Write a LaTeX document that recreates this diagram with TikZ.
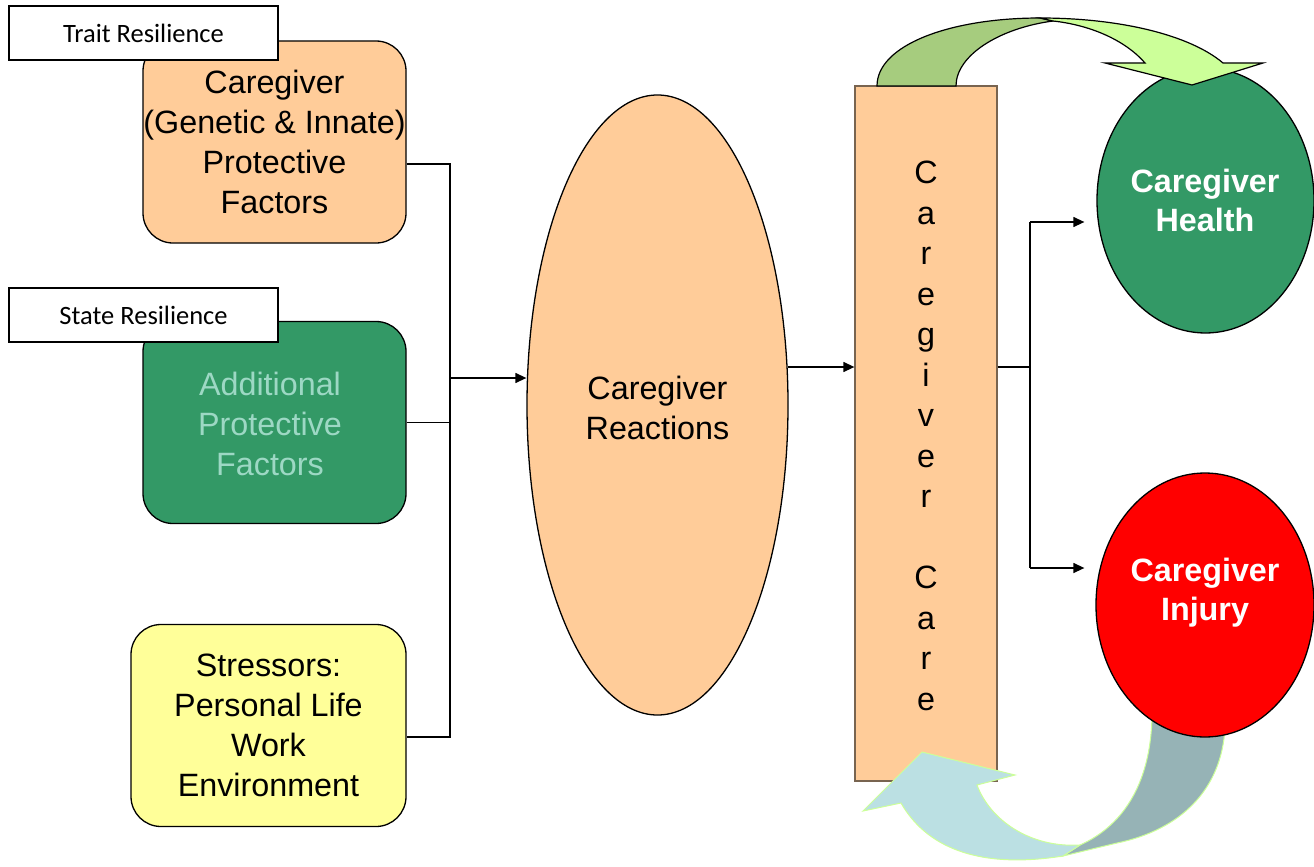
\documentclass[tikz,border=0pt]{standalone}
\usepackage{fontspec}
\setmainfont{Liberation Sans}
\newfontfamily\calib{Carlito}
\usetikzlibrary{shapes.geometric,arrows.meta}
\definecolor{peach}{HTML}{FFCC99}
\definecolor{sgreen}{HTML}{339966}
\definecolor{lyellow}{HTML}{FFFF99}
\definecolor{mint}{HTML}{9DD8C4}
\definecolor{rectline}{RGB}{120,100,80}
\definecolor{arrdark}{HTML}{A6CC7E}
\definecolor{arrlight}{HTML}{CCFF99}
\definecolor{bdark}{HTML}{96B3B6}
\definecolor{blight}{HTML}{BBE0E3}
\begin{document}
\begin{tikzpicture}[x=1pt,y=-1pt,
  mainfont/.style={font=\fontsize{32.3}{40}\selectfont},
  box/.style={draw=black,line width=1.3pt,rounded corners=30pt,minimum width=263pt,minimum height=202pt,align=center,inner sep=0pt,mainfont},
  tag/.style={draw=black,line width=1.5pt,fill=white,minimum width=269pt,minimum height=54pt,inner sep=0pt,font=\calib\fontsize{26.5}{30}\selectfont},
  oval/.style={draw=black,ellipse,line width=1.3pt,inner sep=0pt,align=center,mainfont},
  boldtxt/.style={align=center,text=white,inner sep=0pt,font=\bfseries\fontsize{32.3}{39}\selectfont},
  conn/.style={line width=1.3pt},
  arr/.style={conn,-{Triangle[length=11pt,width=10pt]}},
]
\useasboundingbox (0,0) rectangle (1314,867);

% left boxes
\node[box,fill=peach] (b1) at (274.5,142) {Caregiver\\(Genetic \& Innate)\\Protective\\Factors};
\node[tag] (t1) at (143.5,33) {Trait Resilience};
\node[box,fill=sgreen] (b2) at (274.5,422.5) {};
\node[align=center,text=mint,inner sep=0pt,mainfont] (b2txt) at (270,423.5) {Additional\\Protective\\Factors};
\node[tag] (t2) at (143.5,315) {State Resilience};
\node[box,fill=lyellow,minimum width=275pt] (b3) at (268.5,725.5) {Stressors:\\Personal Life\\Work\\Environment};

% reactions
\node[oval,fill=peach,minimum width=261pt,minimum height=620pt] (react) at (657.5,405) {};
\node[align=center,inner sep=0pt,mainfont] (reacttxt) at (657.5,408) {Caregiver\\Reactions};

% caregiver care bar
\node[draw=rectline,fill=peach,line width=1.3pt,minimum width=142pt,minimum height=695pt,inner sep=0pt] (care) at (926,433.5) {};
\node[align=center,font=\fontsize{32.3}{40.5}\selectfont,inner sep=0pt] (caretxt) at (926,436) {C\\a\\r\\e\\g\\i\\v\\e\\r\\\mbox{}\\C\\a\\r\\e};

% outcomes
\node[oval,fill=sgreen,minimum width=217pt,minimum height=265pt] (health) at (1205.5,200.5) {};
\node[boldtxt] (healthtxt) at (1205,200) {Caregiver\\Health};

% bottom curved arrow (dark back part, under the injury oval)
\draw[draw=arrlight,line width=1pt,fill=bdark]
  (1152,700) -- (1152,712) .. controls (1152,780) and (1125,825) .. (1080,845)
  -- (1063,856) -- (1117,843) .. controls (1180,830) and (1222,790) .. (1225,727)
  -- (1225,700) -- cycle;

\node[oval,fill=red,minimum width=218pt,minimum height=264pt] (injury) at (1205,605) {};
\node[boldtxt] (injurytxt) at (1205,593) {Caregiver\\Injury};

% bottom curved arrow (light front part)
\draw[draw=arrlight,line width=1pt,fill=blight]
  (1080,845) .. controls (1030,848) and (990,820) .. (977,785)
  -- (1015,775) -- (922,752) -- (863,811) -- (901,803)
  .. controls (925,845) and (975,870) .. (1063,856) -- cycle;

% top curved arrow
\draw[draw=black,line width=1.2pt,fill=arrdark]
  (877,86) .. controls (877,45) and (950,18) .. (1040,18) -- (1053,21)
  .. controls (1000,28) and (956,55) .. (956,86) -- cycle;
\draw[draw=black,line width=1.2pt,fill=arrlight]
  (1040,18) .. controls (1120,18) and (1190,35) .. (1223,63)
  -- (1263,63) -- (1192,85) -- (1105,63) -- (1145,63)
  .. controls (1125,40) and (1090,25) .. (1053,21) -- cycle;

% connectors
\coordinate (v1) at (450,164);
\coordinate (v3) at (450,737);
\coordinate (j) at (450,378);
\draw[conn] (b1.east |- v1) -- (v1) -- (v3) -- (b3.east |- v3);
\draw[conn] (b2.east) -- (b2.east -| v1);
\draw[arr] (j) -- (react.west |- j);
\coordinate (m) at (788,367);
\draw[arr] (m) -- (care.west |- m);
\coordinate (k) at (1030,367);
\coordinate (k1) at (1030,222);
\coordinate (k2) at (1030,568);
\draw[conn] (care.east |- k) -- (k);
\draw[conn] (k1) -- (k2);
\draw[arr] (k1) -- ([xshift=-12pt]health.west |- k1);
\draw[arr] (k2) -- ([xshift=-11pt]injury.west |- k2);
\end{tikzpicture}
\end{document}
